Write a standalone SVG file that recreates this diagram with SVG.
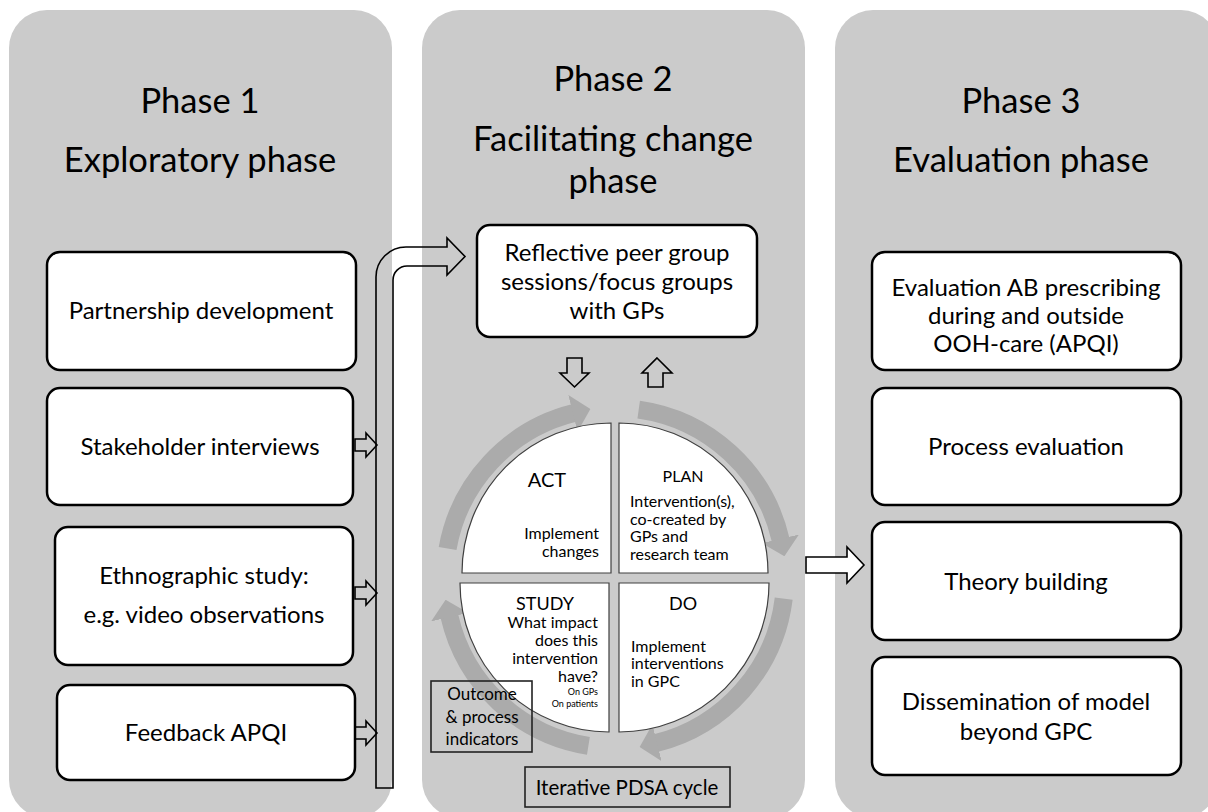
<svg xmlns="http://www.w3.org/2000/svg" width="1208" height="812" viewBox="0 0 1208 812">
<style>
.panel{fill:#cbcbcb}
.box{fill:#fff;stroke:#000;stroke-width:2.5}
.t{font-family:Lato,"Open Sans","Liberation Sans",sans-serif;fill:#000}
.title{font-size:34.5px;text-anchor:middle}
.bt{font-size:24px;text-anchor:middle}
.quad{fill:#fff;stroke:#404040;stroke-width:1.2}
.ring{fill:none;stroke:#ababab;stroke-width:18}
.q{font-size:16px}
.ol{fill:none;stroke:#000;stroke-width:1.6}
</style>
<defs>
<marker id="head" markerUnits="userSpaceOnUse" markerWidth="18" markerHeight="38" viewBox="0 0 18 38" refX="1" refY="19" orient="auto">
<path d="M0,0 L18,19 L0,38 Z" fill="#ababab"/>
</marker>
</defs>

<g id="phase1">
<rect class="panel" x="9" y="10" width="383" height="808" rx="38"/>
<text class="t title" x="200" y="113">Phase 1</text>
<text class="t title" x="200" y="172">Exploratory phase</text>
</g>
<g id="phase2">
<rect class="panel" x="422" y="10" width="383" height="808" rx="38"/>
<text class="t title" x="613" y="91">Phase 2</text>
<text class="t title" x="613" y="151">Facilitating change</text>
<text class="t title" x="613" y="193">phase</text>
</g>
<g id="phase3">
<rect class="panel" x="835" y="10" width="384" height="808" rx="38"/>
<text class="t title" x="1021" y="113">Phase 3</text>
<text class="t title" x="1021" y="172">Evaluation phase</text>
</g>

<g id="partnership">
<rect class="box" x="47" y="252" width="309" height="118" rx="13"/>
<text class="t bt" x="201" y="319">Partnership development</text>
</g>
<g id="stakeholder">
<rect class="box" x="47" y="388" width="306" height="117" rx="13"/>
<text class="t bt" x="200" y="455">Stakeholder interviews</text>
</g>
<g id="ethnographic">
<rect class="box" x="55" y="527" width="298" height="138" rx="13"/>
<text class="t bt" x="204" y="584">Ethnographic study:</text>
<text class="t bt" x="204" y="623">e.g. video observations</text>
</g>
<g id="feedback">
<rect class="box" x="57" y="685" width="298" height="95" rx="13"/>
<text class="t bt" x="206" y="741">Feedback APQI</text>
</g>

<g id="reflective">
<rect class="box" x="477" y="225" width="280" height="112" rx="13"/>
<text class="t bt" x="617" y="261" font-size="25">Reflective peer group</text>
<text class="t bt" x="617" y="290" font-size="25">sessions/focus groups</text>
<text class="t bt" x="617" y="319" font-size="25">with GPs</text>
</g>

<g id="evaluationAB">
<rect class="box" x="872" y="252" width="309" height="118" rx="13"/>
<text class="t bt" x="1026" y="296">Evaluation AB prescribing</text>
<text class="t bt" x="1026" y="324">during and outside</text>
<text class="t bt" x="1026" y="352">OOH-care (APQI)</text>
</g>
<g id="process">
<rect class="box" x="872" y="388" width="309" height="117" rx="13"/>
<text class="t bt" x="1026" y="455">Process evaluation</text>
</g>
<g id="theory">
<rect class="box" x="872" y="522" width="309" height="118" rx="13"/>
<text class="t bt" x="1026" y="590">Theory building</text>
</g>
<g id="dissemination">
<rect class="box" x="872" y="657" width="309" height="118" rx="13"/>
<text class="t bt" x="1026" y="710">Dissemination of model</text>
<text class="t bt" x="1026" y="740">beyond GPC</text>
</g>

<g id="pdsa-ring">
<path class="ring" d="M447.6,548.5 A170,170 0 0 1 573.9,413.1" marker-end="url(#head)"/>
<path class="ring" d="M638.7,409.6 A170,170 0 0 1 780.6,539.8" marker-end="url(#head)"/>
<path class="ring" d="M783.7,598.7 A170,170 0 0 1 656.1,743.0" marker-end="url(#head)"/>
<path class="ring" d="M588.4,745.9 A170,170 0 0 1 449.4,616.2" marker-end="url(#head)"/>
</g>

<g id="act">
<path class="quad" d="M611,573 L462,573 A149,150 0 0 1 611,423 Z"/>
<text class="t" x="547" y="487" font-size="20" text-anchor="middle">ACT</text>
<text class="t q" x="599" y="539" text-anchor="end">Implement</text>
<text class="t q" x="599" y="557" text-anchor="end">changes</text>
</g>
<g id="plan">
<path class="quad" d="M619,573 L619,423 A149,150 0 0 1 768,573 Z"/>
<text class="t q" x="683" y="482" text-anchor="middle">PLAN</text>
<text class="t q" x="630" y="507">Intervention(s),</text>
<text class="t q" x="630" y="525">co-created by</text>
<text class="t q" x="630" y="542">GPs and</text>
<text class="t q" x="630" y="560">research team</text>
</g>
<g id="study">
<path class="quad" d="M609,583 L609,732 A149,149 0 0 1 460,583 Z"/>
<text class="t" x="545" y="610" font-size="18" text-anchor="middle">STUDY</text>
<text class="t q" x="598" y="628" text-anchor="end">What impact</text>
<text class="t q" x="598" y="646" text-anchor="end">does this</text>
<text class="t q" x="598" y="664" text-anchor="end">intervention</text>
<text class="t q" x="598" y="682" text-anchor="end">have?</text>
<text class="t" x="598" y="695" font-size="9" text-anchor="end">On GPs</text>
<text class="t" x="598" y="707" font-size="9" text-anchor="end">On patients</text>
</g>
<g id="do">
<path class="quad" d="M619,583 L769,583 A150,149 0 0 1 619,732 Z"/>
<text class="t" x="683" y="610" font-size="18" text-anchor="middle">DO</text>
<text class="t q" x="631" y="652">Implement</text>
<text class="t q" x="631" y="669">interventions</text>
<text class="t q" x="631" y="687">in GPC</text>
</g>

<g id="outcome">
<rect x="431" y="681" width="101" height="71" fill="none" stroke="#222" stroke-width="1.6"/>
<text class="t" x="482" y="700" font-size="17" text-anchor="middle">Outcome</text>
<text class="t" x="482" y="723" font-size="17" text-anchor="middle">&amp; process</text>
<text class="t" x="482" y="745" font-size="17" text-anchor="middle">indicators</text>
</g>
<g id="iterative">
<rect x="525" y="767" width="205" height="40" fill="none" stroke="#222" stroke-width="1.6"/>
<text class="t" x="627" y="795" font-size="20.5" text-anchor="middle">Iterative PDSA cycle</text>
</g>

<g id="connectors">
<path class="ol" d="M376,788 L376,277 A30,30 0 0 1 406,247 L447,247 L447,238 L465,256.5 L447,275 L447,266 L407,266 A14,14 0 0 0 393,280 L393,788 Z"/>
<path class="ol" d="M355,439 L366,439 L366,433 L377,445 L366,457 L366,451 L355,451 Z"/>
<path class="ol" d="M355,587 L366,587 L366,581 L377,593 L366,605 L366,599 L355,599 Z"/>
<path class="ol" d="M355,727 L366,727 L366,721 L377,733 L366,745 L366,739 L355,739 Z"/>
<path class="ol" d="M567,358 L582,358 L582,373 L589,373 L574.5,387 L560,373 L567,373 Z"/>
<path class="ol" d="M657,358 L672,373 L663,373 L663,387 L648,387 L648,373 L642,373 Z"/>
<path class="ol" style="fill:#fff" d="M806,557 L847,557 L847,547 L864,565 L847,583 L847,573 L806,573 Z"/>
</g>
</svg>
